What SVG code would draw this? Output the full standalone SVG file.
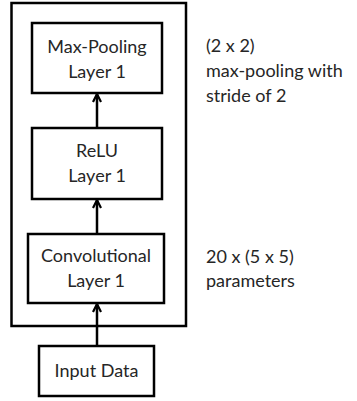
<svg xmlns="http://www.w3.org/2000/svg" width="357" height="401" viewBox="0 0 357 401">
<defs>
<marker id="ah" viewBox="0 0 10 10" refX="9" refY="5" markerWidth="10" markerHeight="10" markerUnits="userSpaceOnUse" orient="auto">
<path d="M1,1 L9,5 L1,9" fill="none" stroke="#000" stroke-width="2.2"/>
</marker>
<style>
.box{fill:#fff;stroke:#000;stroke-width:2.5}
.t{font-family:Lato,"Liberation Sans",sans-serif;font-size:18px;fill:#262626;text-anchor:middle}
.n{font-family:Lato,"Liberation Sans",sans-serif;font-size:18px;fill:#262626}
.c{stroke:#000;stroke-width:2.5;fill:none;marker-end:url(#ah)}
</style>
</defs>
<rect width="357" height="401" fill="#fff"/>
<rect id="frame" x="11.5" y="3" width="174.5" height="323" fill="none" stroke="#000" stroke-width="2.5"/>
<g id="connectors">
<line class="c" x1="97" y1="346" x2="97" y2="304"/>
<line class="c" x1="97" y1="234" x2="97" y2="200"/>
<line class="c" x1="97" y1="128" x2="97" y2="94"/>
</g>
<g id="maxpool">
<rect class="box" x="32" y="23" width="130" height="70"/>
<text class="t" x="97" y="53">Max-Pooling</text>
<text class="t" x="97" y="78">Layer 1</text>
</g>
<g id="relu">
<rect class="box" x="32" y="128" width="130" height="71"/>
<text class="t" x="97" y="157">ReLU</text>
<text class="t" x="97" y="182">Layer 1</text>
</g>
<g id="conv">
<rect class="box" x="28" y="234" width="136" height="69"/>
<text class="t" x="96" y="262">Convolutional</text>
<text class="t" x="96" y="287">Layer 1</text>
</g>
<g id="input">
<rect class="box" x="39" y="346" width="115" height="50"/>
<text class="t" x="96.5" y="377">Input Data</text>
</g>
<g id="notes">
<text class="n" x="206" y="52">(2 x 2)</text>
<text class="n" x="206" y="77">max-pooling with</text>
<text class="n" x="206" y="102">stride of 2</text>
<text class="n" x="206" y="263">20 x (5 x 5)</text>
<text class="n" x="206" y="287">parameters</text>
</g>
</svg>
